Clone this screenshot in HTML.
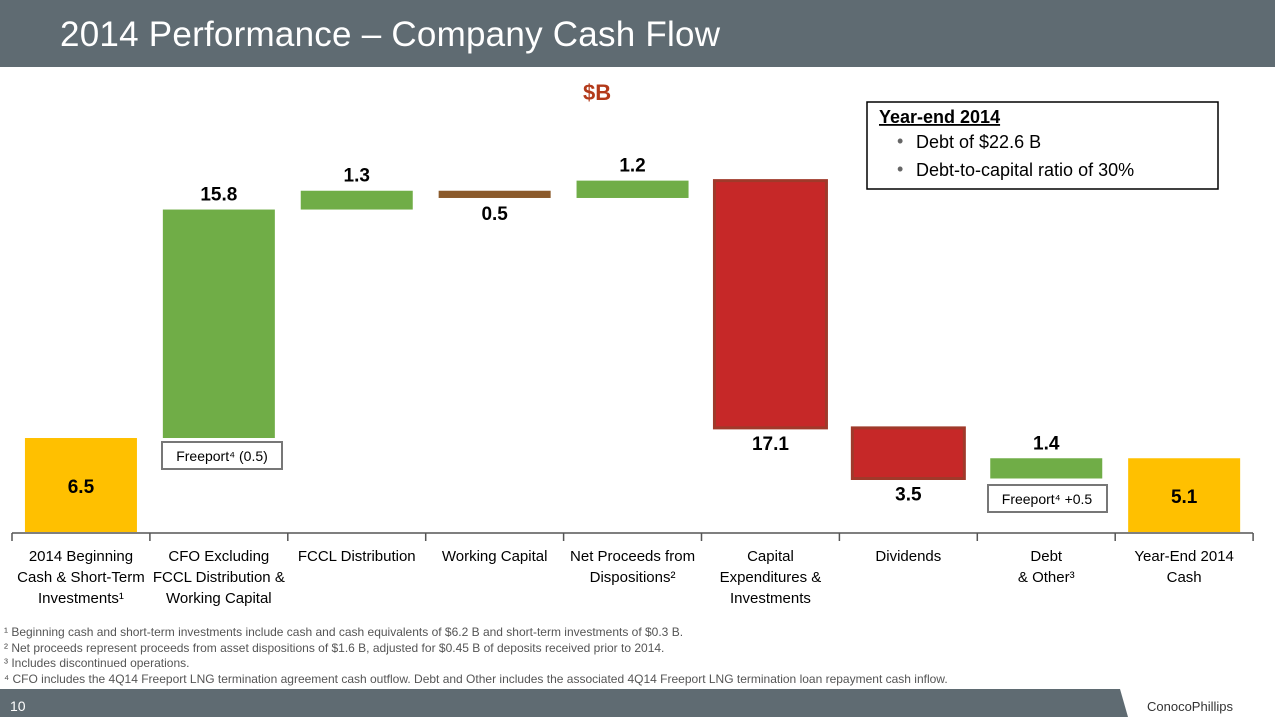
<!DOCTYPE html>
<html><head><meta charset="utf-8"><style>
body{margin:0;width:1275px;height:717px;overflow:hidden;background:#fff;font-family:"Liberation Sans",sans-serif}
svg text{font-family:"Liberation Sans",sans-serif}
</style></head><body>
<svg id="c" width="1275" height="717">
<rect x="0" y="0" width="1275" height="67" fill="#5f6b72"/>
<text x="60" y="46" font-size="35" fill="#fff" textLength="660">2014 Performance – Company Cash Flow</text>
<text x="583" y="100" font-size="22" font-weight="bold" fill="#b33a1a">$B</text>
<g>
<rect x="867" y="102" width="351" height="87" fill="#fff" stroke="#000" stroke-width="1.5"/>
<text x="879" y="123" font-size="18" font-weight="bold" text-decoration="underline">Year-end 2014</text>
<text x="897" y="147" font-size="18" fill="#666">•</text><text x="916" y="148" font-size="18">Debt of $22.6 B</text>
<text x="897" y="175" font-size="18" fill="#666">•</text><text x="916" y="176" font-size="18">Debt-to-capital ratio of 30%</text>
</g>
<g id="bars"></g>
<line x1="12" y1="533" x2="1253" y2="533" stroke="#555" stroke-width="1.5"/>
<g id="ticks"></g>
<g><rect x="162" y="442" width="120" height="27" fill="#fff" stroke="#777" stroke-width="2"/><text x="222" y="461" font-size="14" text-anchor="middle">Freeport⁴ (0.5)</text></g>
<g><rect x="988" y="485" width="119" height="27" fill="#fff" stroke="#777" stroke-width="2"/><text x="1047" y="504" font-size="14" text-anchor="middle">Freeport⁴ +0.5</text></g>
<g font-size="12" fill="#555">
<text x="4" y="636">¹ Beginning cash and short-term investments include cash and cash equivalents of $6.2 B and short-term investments of $0.3 B.</text>
<text x="4" y="652">² Net proceeds represent proceeds from asset dispositions of $1.6 B, adjusted for $0.45 B of deposits received prior to 2014.</text>
<text x="4" y="667">³ Includes discontinued operations.</text>
<text x="4" y="683">⁴ CFO includes the 4Q14 Freeport LNG termination agreement cash outflow. Debt and Other includes the associated 4Q14 Freeport LNG termination loan repayment cash inflow.</text>
</g>
<rect x="0" y="689" width="1275" height="28" fill="#5f6b72"/>
<polygon points="1120,689 1275,689 1275,717 1128,717" fill="#fff"/>
<text x="10" y="711" font-size="14" fill="#fff">10</text>
<text x="1190" y="711" font-size="13" fill="#333" text-anchor="middle">ConocoPhillips</text>
</svg>
<script>
const categories=[["2014 Beginning","Cash & Short-Term","Investments¹"],["CFO Excluding","FCCL Distribution &","Working Capital"],["FCCL Distribution"],["Working Capital"],["Net Proceeds from","Dispositions²"],["Capital","Expenditures &","Investments"],["Dividends"],["Debt","& Other³"],["Year-End 2014","Cash"]];
const startValue=6.5;
const deltas=[15.8,1.3,-0.5,1.2,-17.1,-3.5,1.4];
const endValue=5.1;
const labels=["6.5","15.8","1.3","0.5","1.2","17.1","3.5","1.4","5.1"];
const NS="http://www.w3.org/2000/svg";
const base=532,scale=14.46,x0=12,step=137.9,bw=112;
const y=v=>base-v*scale;
const cx=i=>x0+step*(i+0.5);
function mk(t,a,p){const e=document.createElementNS(NS,t);for(const k in a)e.setAttribute(k,a[k]);p.appendChild(e);return e;}
const bars=document.getElementById('bars'),ticks=document.getElementById('ticks');
for(let i=0;i<=categories.length;i++){const t=mk('line',{x1:x0+step*i,x2:x0+step*i,y1:533,y2:541,stroke:'#555','stroke-width':1.5},ticks);

}
categories.forEach((c,i)=>{const t=mk('text',{x:cx(i),y:561,'font-size':15,'text-anchor':'middle'},ticks);


c.forEach((l,j)=>{const s=mk('tspan',{x:cx(i),dy:j?21:0},t);s.textContent=l;});});
let cum=startValue;
const segs=[[0,startValue,'#ffc000',null,'in']];
deltas.forEach(d=>{const a=cum,b=cum+d;cum=b;segs.push([a,b,d>=0?'#70ad47':(Math.abs(d)<1?'#8b5a2b':'#c62828'),d<0&&Math.abs(d)>=1?'#a0392a':null,d>=0?'above':'below']);});
segs.push([0,endValue,'#ffc000',null,'in']);
segs.forEach((s,i)=>{const top=y(Math.max(s[0],s[1])),bot=y(Math.min(s[0],s[1]));
const r=mk('rect',{x:cx(i)-bw/2,y:top,width:bw,height:Math.max(bot-top,4),fill:s[2]},bars);
if(s[3]){r.setAttribute('stroke',s[3]);r.setAttribute('stroke-width',3);}


let ly=s[4]==='in'?(top+bot)/2+8:(s[4]==='above'?top-9:bot+22);
const t=mk('text',{x:cx(i),y:ly,'font-size':19,'font-weight':'bold','text-anchor':'middle'},bars);
t.textContent=labels[i];

});
</script>
</body></html>
